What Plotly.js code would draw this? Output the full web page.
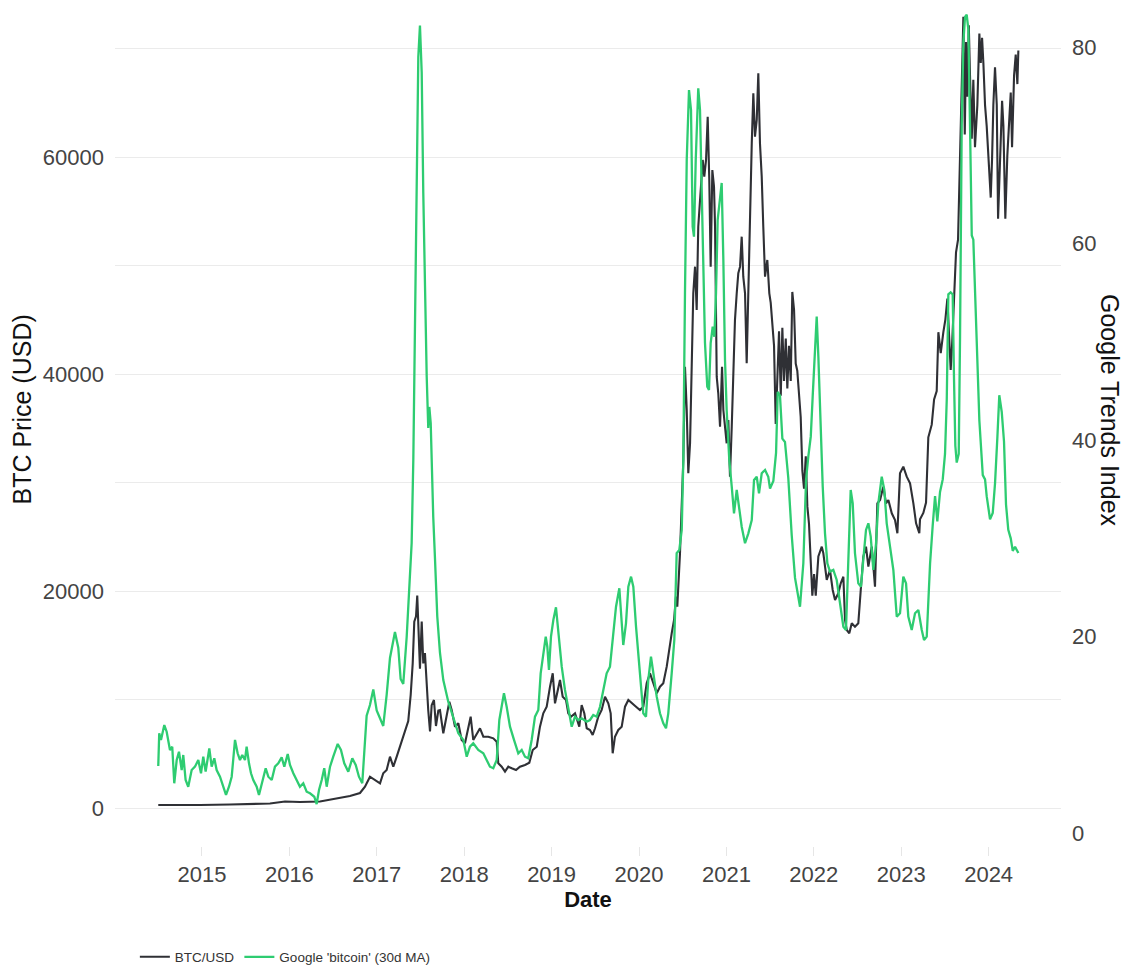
<!DOCTYPE html>
<html>
<head>
<meta charset="utf-8">
<script src="https://cdn.plot.ly/plotly-3.0.1.min.js"></script>
<style>html,body{margin:0;padding:0;background:#fff;}#chart{width:1125px;height:966px;}</style>
</head>
<body>
<div id="chart"></div>
<script>
// ---- Data ----
const yearTicks = [2015, 2016, 2017, 2018, 2019, 2020, 2021, 2022, 2023, 2024];
const yearTickText = ['2015', '2016', '2017', '2018', '2019', '2020', '2021', '2022', '2023', '2024'];

// BTC/USD price: decimal year, price in USD
const btcYear = [
2014.500,2014.691,2014.977,2015.320,2015.549,2015.778,2015.950,2016.121,2016.350,2016.522,
2016.693,2016.808,2016.865,2016.922,2016.979,2017.037,2017.074,2017.113,2017.151,2017.189,
2017.228,2017.265,2017.323,2017.360,2017.388,2017.411,2017.429,2017.449,2017.463,2017.479,
2017.494,2017.514,2017.532,2017.551,2017.571,2017.589,2017.609,2017.628,2017.654,2017.677,
2017.704,2017.723,2017.761,2017.800,2017.830,2017.857,2017.895,2017.933,2017.971,2018.009,
2018.047,2018.074,2018.104,2018.143,2018.181,2018.219,2018.276,2018.333,2018.372,2018.390,
2018.429,2018.467,2018.505,2018.544,2018.593,2018.638,2018.696,2018.745,2018.784,2018.830,
2018.867,2018.905,2018.944,2018.982,2019.013,2019.039,2019.065,2019.096,2019.127,2019.165,
2019.191,2019.222,2019.268,2019.317,2019.344,2019.374,2019.402,2019.439,2019.470,2019.497,
2019.534,2019.573,2019.611,2019.649,2019.676,2019.699,2019.725,2019.763,2019.802,2019.840,
2019.878,2019.917,2019.966,2020.011,2020.049,2020.088,2020.126,2020.164,2020.203,2020.240,
2020.278,2020.317,2020.347,2020.374,2020.401,2020.423,2020.438,2020.461,2020.469,2020.507,
2020.526,2020.546,2020.564,2020.584,2020.603,2020.621,2020.641,2020.660,2020.678,2020.706,
2020.729,2020.747,2020.767,2020.786,2020.804,2020.820,2020.839,2020.858,2020.870,2020.889,
2020.907,2020.927,2020.950,2020.965,2020.984,2021.003,2021.022,2021.041,2021.061,2021.079,
2021.098,2021.118,2021.136,2021.156,2021.175,2021.193,2021.213,2021.232,2021.251,2021.270,
2021.290,2021.308,2021.327,2021.347,2021.365,2021.384,2021.404,2021.422,2021.442,2021.468,
2021.491,2021.507,2021.525,2021.545,2021.564,2021.583,2021.602,2021.622,2021.640,2021.659,
2021.679,2021.697,2021.716,2021.736,2021.754,2021.774,2021.793,2021.811,2021.831,2021.850,
2021.869,2021.888,2021.908,2021.926,2021.945,2021.965,2021.983,2022.003,2022.022,2022.052,
2022.091,2022.109,2022.148,2022.185,2022.216,2022.243,2022.280,2022.308,2022.338,2022.357,
2022.377,2022.406,2022.434,2022.471,2022.509,2022.537,2022.566,2022.597,2022.624,2022.663,
2022.700,2022.727,2022.758,2022.795,2022.826,2022.853,2022.892,2022.929,2022.956,2022.986,
2023.024,2023.063,2023.101,2023.139,2023.170,2023.207,2023.215,2023.253,2023.284,2023.310,
2023.349,2023.376,2023.406,2023.425,2023.452,2023.482,2023.505,2023.528,2023.551,2023.566,
2023.582,2023.604,2023.627,2023.650,2023.665,2023.681,2023.696,2023.711,2023.727,2023.742,
2023.757,2023.773,2023.787,2023.807,2023.825,2023.844,2023.871,2023.894,2023.910,2023.925,
2023.940,2023.959,2023.978,2023.997,2024.024,2024.039,2024.054,2024.073,2024.093,2024.108,
2024.131,2024.154,2024.169,2024.191,2024.214,2024.237,2024.253,2024.268,2024.291,2024.310,
2024.329,2024.340
];
const btcPrice = [
277,249,277,323,369,415,599,553,599,830,
1106,1383,1963,2885,2581,2277,3198,3502,4728,3807,
4728,5650,7060,8019,10434,13328,17180,17660,19586,15733,
12849,17180,13328,14286,10913,8987,7060,9475,9954,7558,
8987,9033,6885,8729,9798,9033,7493,7807,6268,5963,
7493,8415,6268,6885,7346,6572,6572,6424,6111,4120,
3807,3346,3807,3659,3502,3807,3963,4175,5346,5650,
7493,8729,9337,11180,12415,9650,10572,11798,10259,9954,
8729,8415,8729,7493,9494,8729,7346,7189,6728,7346,
8415,9033,10259,9650,8729,5042,6572,7189,7493,9337,
9954,9650,9337,9033,9337,11494,12415,11494,10572,11180,
11494,13024,14867,16102,17328,19476,18554,21936,23476,32075,
40675,36684,30849,33614,41292,47440,49892,45901,53578,57265,
59726,58187,59726,63717,57883,49892,58804,57265,53578,39753,
38223,35144,40675,36684,35144,33614,35762,30536,35144,39753,
44979,47440,49283,49892,52657,48970,47440,40988,47440,56657,
61265,65874,61874,63413,67717,61265,58187,53578,48970,50509,
47440,46555,44583,42610,35393,39974,43928,38002,44251,39357,
43265,38656,42610,39357,47560,45901,40960,40306,37670,36038,
31089,29439,32407,27799,26176,22213,19568,21568,19568,23190,
24084,23476,21015,21936,20093,19171,19789,20711,21319,17328,
16406,16102,17024,16710,17024,20093,23162,24084,22241,24084,
20397,28084,28388,29614,28084,28388,27163,26545,25319,30849,
31458,30536,29928,28084,26241,25319,26610,27190,28158,34167,
35329,37651,38435,43854,41919,43854,45016,46951,43467,40370,
42693,47338,51219,52380,57809,62842,68667,72925,62067,70602,
65561,72151,67496,61680,67109,60906,64786,71377,68667,70989,
68667,64786,62842,60519,56261,59745,64786,68270,64786,54316,
60906,65173,62842,54316,60132,64399,65948,60906,67496,69432,
66722,69818
];

// Google Trends 'bitcoin' (30-day moving average): decimal year, index
const gtYear = [
2014.500,2014.511,2014.531,2014.569,2014.596,2014.614,2014.634,2014.660,2014.683,2014.711,
2014.737,2014.768,2014.786,2014.813,2014.843,2014.882,2014.920,2014.958,2014.989,2015.015,
2015.042,2015.084,2015.111,2015.141,2015.168,2015.206,2015.232,2015.275,2015.309,2015.340,
2015.378,2015.408,2015.435,2015.461,2015.492,2015.511,2015.538,2015.561,2015.587,2015.626,
2015.652,2015.683,2015.729,2015.759,2015.798,2015.835,2015.873,2015.912,2015.942,2015.981,
2016.007,2016.045,2016.084,2016.121,2016.159,2016.198,2016.236,2016.285,2016.312,2016.339,
2016.370,2016.399,2016.427,2016.465,2016.502,2016.553,2016.590,2016.628,2016.674,2016.720,
2016.759,2016.796,2016.834,2016.884,2016.922,2016.960,2016.999,2017.074,2017.113,2017.151,
2017.208,2017.246,2017.273,2017.303,2017.342,2017.380,2017.399,2017.418,2017.437,2017.457,
2017.475,2017.494,2017.514,2017.532,2017.551,2017.571,2017.589,2017.601,2017.617,2017.628,
2017.646,2017.666,2017.692,2017.723,2017.761,2017.818,2017.875,2017.933,2017.990,2018.029,
2018.066,2018.104,2018.161,2018.219,2018.257,2018.295,2018.333,2018.372,2018.402,2018.429,
2018.455,2018.486,2018.524,2018.570,2018.619,2018.658,2018.696,2018.733,2018.772,2018.810,
2018.848,2018.875,2018.905,2018.933,2018.951,2018.970,2018.993,2019.020,2019.050,2019.077,
2019.116,2019.153,2019.191,2019.230,2019.268,2019.306,2019.344,2019.402,2019.439,2019.477,
2019.516,2019.554,2019.592,2019.630,2019.668,2019.706,2019.737,2019.775,2019.802,2019.820,
2019.851,2019.878,2019.909,2019.935,2019.966,2020.003,2020.049,2020.080,2020.106,2020.137,
2020.164,2020.203,2020.240,2020.278,2020.309,2020.335,2020.374,2020.404,2020.431,2020.461,
2020.489,2020.507,2020.526,2020.546,2020.572,2020.595,2020.614,2020.629,2020.649,2020.678,
2020.698,2020.717,2020.736,2020.755,2020.781,2020.801,2020.820,2020.843,2020.862,2020.881,
2020.900,2020.927,2020.946,2020.965,2020.984,2021.003,2021.033,2021.061,2021.087,2021.118,
2021.148,2021.175,2021.213,2021.251,2021.290,2021.316,2021.347,2021.373,2021.404,2021.442,
2021.479,2021.499,2021.537,2021.568,2021.587,2021.613,2021.640,2021.670,2021.708,2021.747,
2021.785,2021.842,2021.880,2021.911,2021.937,2021.965,2021.987,2022.014,2022.033,2022.052,
2022.071,2022.102,2022.128,2022.155,2022.185,2022.223,2022.262,2022.300,2022.338,2022.368,
2022.395,2022.422,2022.445,2022.471,2022.509,2022.540,2022.566,2022.597,2022.624,2022.651,
2022.681,2022.712,2022.738,2022.777,2022.807,2022.834,2022.872,2022.910,2022.949,2022.986,
2023.024,2023.055,2023.081,2023.120,2023.158,2023.196,2023.235,2023.261,2023.292,2023.310,
2023.330,2023.360,2023.387,2023.413,2023.444,2023.475,2023.501,2023.521,2023.539,2023.566,
2023.589,2023.604,2023.619,2023.635,2023.658,2023.673,2023.692,2023.711,2023.730,2023.749,
2023.768,2023.787,2023.807,2023.825,2023.844,2023.864,2023.894,2023.933,2023.959,2023.978,
2024.016,2024.047,2024.073,2024.100,2024.122,2024.150,2024.176,2024.199,2024.225,2024.253,
2024.276,2024.302,2024.322,2024.340
];
const gtIndex = [
6.82,10.15,9.47,10.99,10.31,9.47,8.45,8.78,5.06,7.43,
8.27,6.41,7.94,5.39,4.71,6.41,6.75,7.43,6.08,7.77,
6.24,8.62,6.75,7.60,6.41,5.73,5.06,3.87,4.71,5.73,
9.47,8.11,7.43,7.94,7.43,8.78,7.09,6.08,5.39,4.71,
3.87,5.06,6.59,5.73,5.39,6.75,7.09,7.70,6.75,8.04,
6.92,6.08,5.39,4.71,5.06,4.20,4.04,3.69,2.95,4.38,
5.39,6.59,4.71,6.75,7.77,9.06,8.45,7.09,6.24,7.60,
6.92,5.73,5.06,11.94,13.03,14.60,12.47,10.89,14.07,17.81,
20.46,18.86,15.67,15.17,19.95,26.30,29.52,38.00,51.85,67.81,
78.98,82.17,77.38,65.14,54.50,46.51,41.22,43.36,41.73,36.95,
32.16,27.89,22.05,18.32,15.57,13.36,11.84,10.15,9.47,7.77,
8.78,9.13,8.45,8.11,7.43,6.75,6.59,7.43,11.50,12.85,
14.22,12.85,10.82,9.47,8.11,8.45,7.77,7.60,9.47,11.84,
12.52,16.25,18.29,19.98,18.96,16.59,19.98,21.68,22.97,20.33,
16.93,14.56,12.85,10.82,11.84,11.50,11.67,11.33,11.50,12.01,
11.84,12.85,14.56,16.25,16.93,20.66,23.03,24.91,21.68,19.13,
21.34,25.07,26.09,25.07,21.00,16.93,12.18,11.84,15.57,17.94,
16.25,13.87,12.18,11.17,10.66,12.18,16.25,19.64,28.47,28.80,
30.84,37.96,54.96,68.50,75.62,73.59,61.71,60.69,68.50,75.80,
73.59,65.14,58.32,49.87,45.43,45.09,49.87,51.53,50.51,54.96,
62.39,64.43,66.16,58.32,48.14,43.05,37.96,35.25,32.54,34.91,
32.88,31.17,29.49,30.50,31.86,35.93,36.26,34.57,36.61,36.95,
36.26,35.05,35.83,38.69,44.89,44.51,40.14,39.80,36.14,30.33,
25.96,23.03,27.45,35.93,38.30,40.34,44.41,49.50,52.55,48.48,
42.72,35.25,30.50,27.45,26.60,26.77,25.75,23.38,21.00,20.66,
27.79,34.91,33.56,28.47,25.41,25.07,27.79,30.84,31.52,30.16,
26.77,29.49,33.56,36.26,34.91,31.52,29.14,26.77,22.02,22.36,
26.09,25.41,22.02,20.66,22.36,22.70,20.66,19.64,19.98,24.02,
27.43,31.29,34.30,31.72,34.71,35.99,38.58,44.12,54.82,55.03,
54.82,46.26,39.41,37.70,38.58,50.54,71.96,80.51,83.07,83.29,
81.79,71.96,60.81,60.39,54.82,48.41,41.98,36.42,35.99,34.28,
31.93,32.57,35.56,40.27,44.55,42.85,39.85,33.43,30.85,29.99,
28.71,29.14,28.71,28.50
];

const seriesNames = ['BTC/USD', "Google 'bitcoin' (30d MA)"];
const axisTitles = {x: 'Date', yLeft: 'BTC Price (USD)', yRight: 'Google Trends Index'};

// ---- Chart ----
const FONT = "'Liberation Sans', Arial, Helvetica, sans-serif";

const traces = [
  {
    x: btcYear, y: btcPrice, name: seriesNames[0], type: 'scatter', mode: 'lines',
    line: {color: '#2f3035', width: 2.1}, yaxis: 'y', hoverinfo: 'skip'
  },
  {
    x: gtYear, y: gtIndex, name: seriesNames[1], type: 'scatter', mode: 'lines',
    line: {color: '#2ecc71', width: 2.3}, yaxis: 'y2', hoverinfo: 'skip'
  }
];

const layout = {
  width: 1125, height: 966,
  margin: {l: 115, r: 64, t: 0, b: 120, pad: 0},
  paper_bgcolor: '#ffffff', plot_bgcolor: '#ffffff',
  font: {family: FONT, color: '#333333'},
  showlegend: true,
  legend: {
    orientation: 'h', xref: 'paper', x: 0.021, xanchor: 'left',
    yref: 'container', y: 0.0093, yanchor: 'middle',
    font: {family: FONT, size: 13.5, color: '#333333'}, bgcolor: 'rgba(0,0,0,0)'
  },
  xaxis: {
    range: [2014.005, 2024.828], tickmode: 'array', tickvals: yearTicks, ticktext: yearTickText,
    showgrid: false, zeroline: false, showline: false,
    ticks: 'outside', ticklen: 9, tickcolor: '#e6e6e6', tickwidth: 1,
    tickfont: {family: FONT, size: 22, color: '#444444'},
    title: {text: '<b>' + axisTitles.x + '</b>', font: {family: FONT, size: 22, color: '#111111'}, standoff: 2},
    automargin: false
  },
  yaxis: {
    range: [-3502, 74470], tickmode: 'linear', tick0: 0, dtick: 20000, tickformat: 'd',
    showgrid: true, gridcolor: '#ebebeb', gridwidth: 1, zeroline: false, showline: false,
    minor: {tickmode: 'linear', tick0: 0, dtick: 10000, showgrid: true, gridcolor: '#ebebeb', gridwidth: 1},
    ticks: '', ticklabelstandoff: 10, tickfont: {family: FONT, size: 22, color: '#444444'},
    automargin: false
  },
  yaxis2: {
    overlaying: 'y', side: 'right',
    range: [-1.323, 84.78], tickmode: 'linear', tick0: 0, dtick: 20,
    showgrid: false, zeroline: false, showline: false, ticks: '', ticklabelstandoff: 10,
    tickfont: {family: FONT, size: 22, color: '#444444'},
    automargin: false
  },
  annotations: [
    {
      text: axisTitles.yLeft, xref: 'paper', yref: 'paper',
      x: -0.0978, y: 0.5165, xanchor: 'center', yanchor: 'middle',
      textangle: -90, showarrow: false,
      font: {family: FONT, size: 25, color: '#111111'}
    },
    {
      text: axisTitles.yRight, xref: 'paper', yref: 'paper',
      x: 1.0518, y: 0.5154, xanchor: 'center', yanchor: 'middle',
      textangle: 90, showarrow: false,
      font: {family: FONT, size: 25, color: '#111111'}
    }
  ]
};

Plotly.newPlot('chart', traces, layout, {displayModeBar: false, staticPlot: true});
</script>
</body>
</html>
